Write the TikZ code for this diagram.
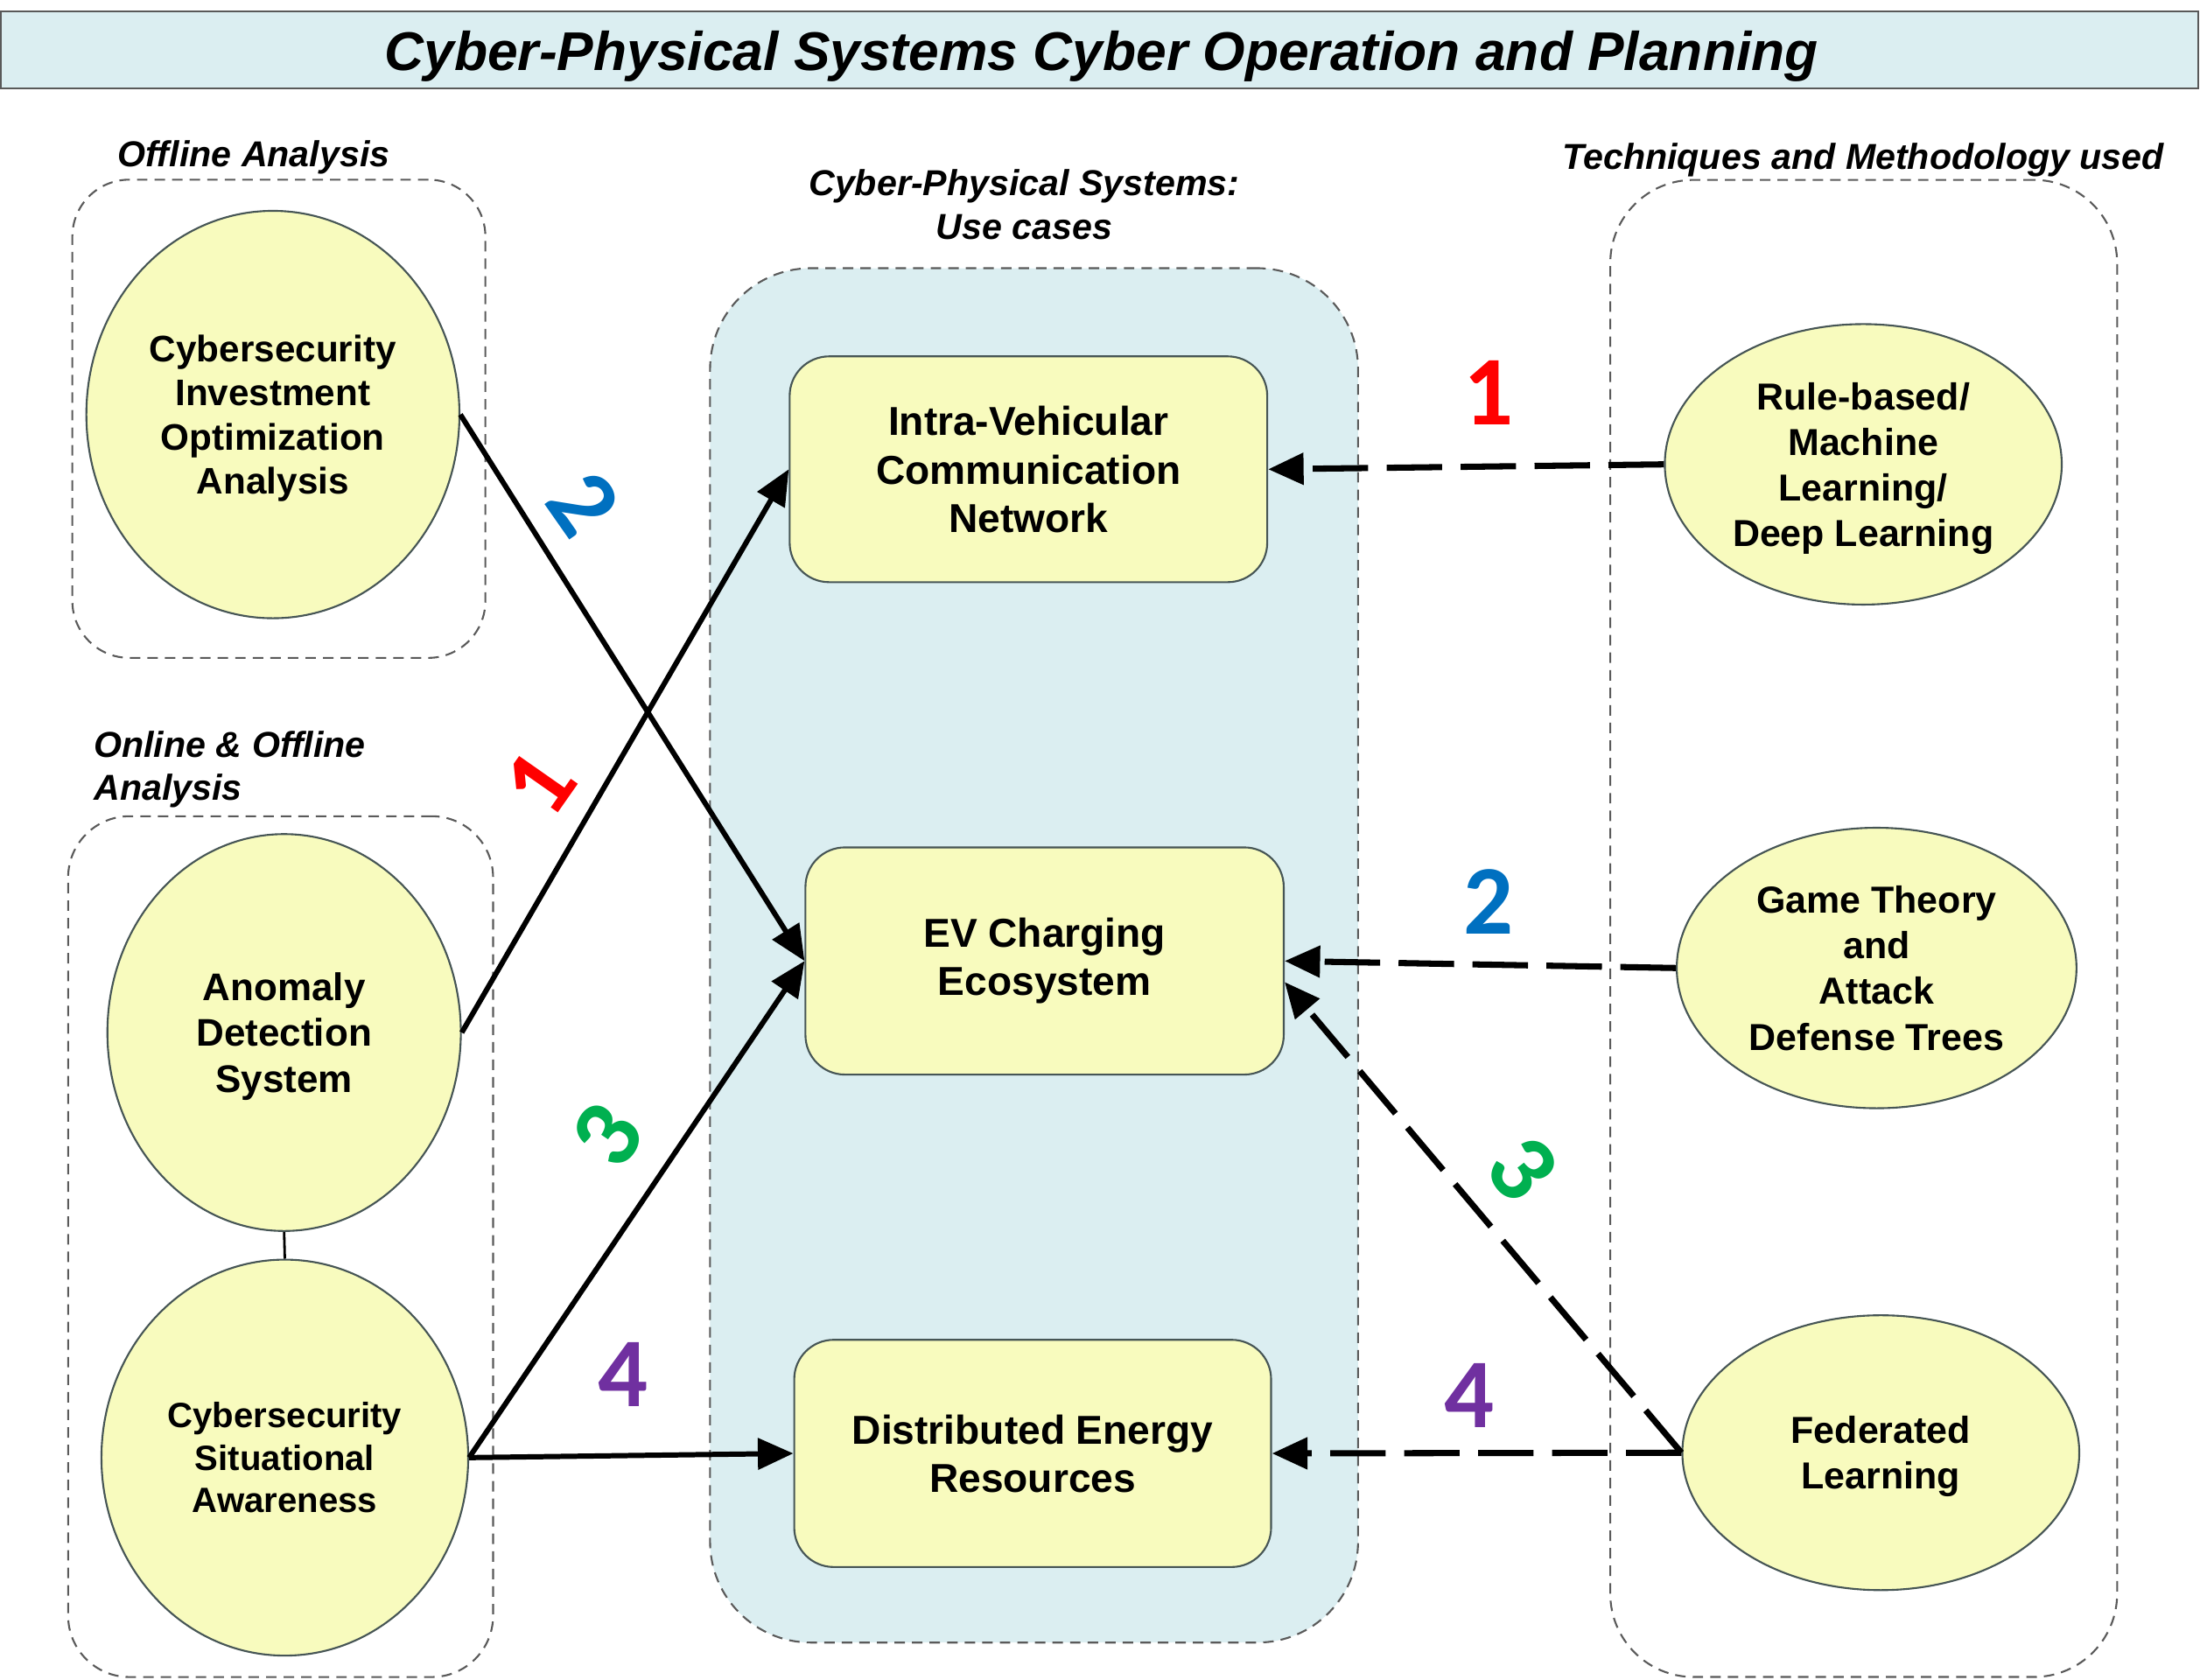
\documentclass[tikz,border=0pt]{standalone}
\usepackage{fontspec}
\setmainfont{Liberation Sans}
\newfontfamily\numfont{Carlito}
\usetikzlibrary{shapes.geometric,arrows.meta,calc}

\definecolor{ellfill}{RGB}{248,251,190}
\definecolor{bluebg}{RGB}{219,238,241}
\definecolor{edgegray}{RGB}{70,85,85}
\definecolor{dashgray}{RGB}{90,90,90}
\definecolor{numred}{RGB}{255,0,0}
\definecolor{numblue}{RGB}{0,112,192}
\definecolor{numgreen}{RGB}{0,176,80}
\definecolor{numpurple}{RGB}{112,48,160}

\begin{document}
\begin{tikzpicture}[x=0.016cm,y=-0.016cm,
  ell/.style={ellipse, draw=edgegray, line width=0.6pt, fill=ellfill, inner sep=0pt, align=center, text depth=0pt},
  usebox/.style={rectangle, rounded corners=0.45cm, draw=edgegray, line width=0.6pt, fill=ellfill, align=center, inner sep=0pt, font=\fontsize{13.1}{15.7}\selectfont\bfseries},
  grp/.style={rectangle, draw=dashgray, dash pattern=on 3.4pt off 2.3pt, line width=0.6pt, inner sep=0pt},
  lab/.style={font=\fontsize{11.7}{14.1}\selectfont\bfseries\itshape, inner sep=0pt},
  solidarr/.style={line width=1.7pt, -{Triangle[length=11.5pt,width=10pt]}},
  dasharr/.style={line width=2pt, dash pattern=on 18pt off 6pt, -{Triangle[length=11.5pt,width=10pt]}},
  num/.style={font=\fontsize{32}{32}\selectfont\numfont\bfseries, inner sep=0pt}
]
\useasboundingbox (0,0) rectangle (1568,1197);

% title
\node[draw=gray!70!black, line width=0.6pt, fill=bluebg, minimum width=25.064cm, minimum height=0.88cm, inner sep=0pt] (titlebox) at (783.75,35.5) {};
\node[font=\fontsize{17.7}{20}\selectfont\bfseries\itshape, inner sep=0pt] (title) at (785,40) {Cyber-Physical Systems Cyber Operation and Planning};

% group containers
\node[grp, rounded corners=0.65cm, minimum width=4.712cm, minimum height=5.456cm] (goff) at (198.75,298.5) {};
\node[grp, rounded corners=0.7cm, minimum width=4.848cm, minimum height=9.821cm] (gon) at (200,888.6) {};
\node[grp, fill=bluebg, rounded corners=1.15cm, minimum width=7.392cm, minimum height=15.68cm] (gcps) at (737,681) {};
\node[grp, rounded corners=0.95cm, minimum width=5.782cm, minimum height=17.08cm] (gtech) at (1328.3,661.8) {};

% group labels
\node[lab] (loff) at (181,112) {Offline Analysis};
\node[lab, align=left, anchor=west] (lon) at (66.5,548.5) {Online \& Offline\\Analysis};
\node[lab, align=center] (lcps) at (730,146) {Cyber-Physical Systems:\\Use cases};
\node[lab] (ltech) at (1328,114) {Techniques and Methodology used};

% left ellipses
\node[ell, minimum width=4.256cm, minimum height=4.648cm, font=\fontsize{12}{14.3}\selectfont\bfseries] (inv) at (194.5,295.5) {Cybersecurity\\Investment\\Optimization\\Analysis};
\node[ell, minimum width=4.032cm, minimum height=4.528cm, font=\fontsize{12.5}{14.8}\selectfont\bfseries] (ano) at (202.5,736) {Anomaly\\Detection\\System};
\node[ell, minimum width=4.184cm, minimum height=4.518cm, font=\fontsize{11.4}{13.8}\selectfont\bfseries] (sit) at (203,1039) {Cybersecurity\\Situational\\Awareness};

% use case boxes
\node[usebox, text depth=0pt, minimum width=5.448cm, minimum height=2.576cm] (intra) at (733,334.5) {Intra-Vehicular\\Communication\\Network};
\node[usebox, minimum width=5.456cm, minimum height=2.592cm] (ev) at (744.5,685) {EV Charging\\Ecosystem};
\node[usebox, text depth=0pt, minimum width=5.44cm, minimum height=2.592cm] (der) at (736,1036) {Distributed Energy\\Resources};

% technique ellipses
\node[ell, minimum width=4.528cm, minimum height=3.2cm, font=\fontsize{12.2}{14.8}\selectfont\bfseries] (rule) at (1328,331) {Rule-based/\\Machine\\Learning/\\Deep Learning};
\node[ell, minimum width=4.56cm, minimum height=3.2cm, font=\fontsize{12.2}{14.8}\selectfont\bfseries] (game) at (1337.5,690) {Game Theory\\and\\Attack\\Defense Trees};
\node[ell, minimum width=4.528cm, minimum height=3.136cm, font=\fontsize{12.2}{14.8}\selectfont\bfseries] (fed) at (1340.5,1035.5) {Federated\\Learning};

% connectors
\draw[line width=0.8pt] (ano.south) -- (sit.north);
\draw[solidarr] (inv.east) -- (ev.west);
\draw[solidarr] (ano.east) -- (intra.west);
\draw[solidarr] (sit.east) -- (ev.west);
\draw[solidarr] (sit.east) -- (der.west);
\draw[dasharr] (rule.west) -- (intra.east);
\draw[dasharr] (game.west) -- (ev.east);
\draw[dasharr] (fed.west) -- (ev.-5);
\draw[dasharr] (fed.west) -- (der.east);

% numbers
\node[num, text=numred] (n1a) at (1061,280) {1};
\node[num, text=numred, rotate=55] (n1b) at (385,558) {1};
\node[num, text=numblue, rotate=-55] (n2a) at (416,359) {2};
\node[num, text=numblue] (n2b) at (1061,643) {2};
\node[num, text=numgreen, rotate=56] (n3a) at (433,809) {3};
\node[num, text=numgreen, rotate=-52] (n3b) at (1085,833) {3};
\node[num, text=numpurple] (n4a) at (444,980) {4};
\node[num, text=numpurple] (n4b) at (1047,995) {4};
\end{tikzpicture}
\end{document}
